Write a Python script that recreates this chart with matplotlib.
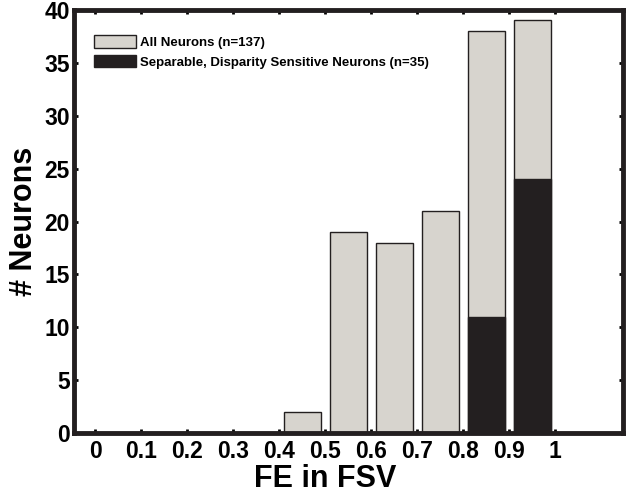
import numpy as np
import matplotlib
matplotlib.use("Agg")
import matplotlib.pyplot as plt

plt.rcParams['font.family'] = ['Liberation Sans', 'DejaVu Sans']
plt.rcParams['font.weight'] = 'bold'

# histogram bins (left edges) and counts
bin_left = [0.4, 0.5, 0.6, 0.7, 0.8, 0.9]
all_counts = [2, 19, 18, 21, 38, 39]
sep_counts = [0, 0, 0, 0, 11, 24]

xticks = [0, 0.1, 0.2, 0.3, 0.4, 0.5, 0.6, 0.7, 0.8, 0.9, 1]
xtick_labels = ['0', '0.1', '0.2', '0.3', '0.4', '0.5', '0.6', '0.7', '0.8', '0.9', '1']
yticks = [0, 5, 10, 15, 20, 25, 30, 35, 40]

gray = '#d7d4ce'
dark = '#231f20'

fig = plt.figure(figsize=(6.27, 4.95), dpi=100)
ax = fig.add_axes([0.118, 0.125, 0.876, 0.855])

centers = np.array(bin_left) + 0.05
ax.bar(centers, all_counts, width=0.08, color=gray, edgecolor=dark,
       linewidth=1.0, label='All Neurons (n=137)', zorder=2)
sep = np.array(sep_counts)
mask = sep > 0
ax.bar(centers[mask], sep[mask], width=0.08, color=dark, edgecolor=dark,
       linewidth=1.0, label='Separable, Disparity Sensitive Neurons (n=35)', zorder=3)

xmin, xmax = -0.046, 1.148
ax.set_xlim(xmin, xmax)
ax.set_ylim(0, 40)
ax.set_xticks(xticks)
ax.set_xticklabels(xtick_labels)
ax.set_yticks(yticks)

ax.tick_params(direction='in', length=3, width=2, labelsize=16.5,
               top=True, right=True)
ax.tick_params(axis='x', pad=5)
ax.tick_params(axis='y', pad=3)
for lab in ax.get_xticklabels() + ax.get_yticklabels():
    lab.set_fontweight('bold')
for sp in ax.spines.values():
    sp.set_linewidth(3.5)
    sp.set_color(dark)

ax.set_xlabel('FE in FSV', fontsize=22, fontweight='bold', labelpad=0)
# MATLAB centres the label on the tick range
ax.xaxis.set_label_coords((0.5 - xmin) / (xmax - xmin), -0.072)
ax.set_ylabel('# Neurons', fontsize=22, fontweight='bold', labelpad=4)

leg = ax.legend(loc='upper left', bbox_to_anchor=(0.027, 0.952), frameon=False,
                prop={'size': 9.5, 'weight': 'bold'}, handlelength=3.2,
                handleheight=1.05, handletextpad=0.25, labelspacing=0.45,
                borderaxespad=0)

fig.savefig('out.png', dpi=100)
